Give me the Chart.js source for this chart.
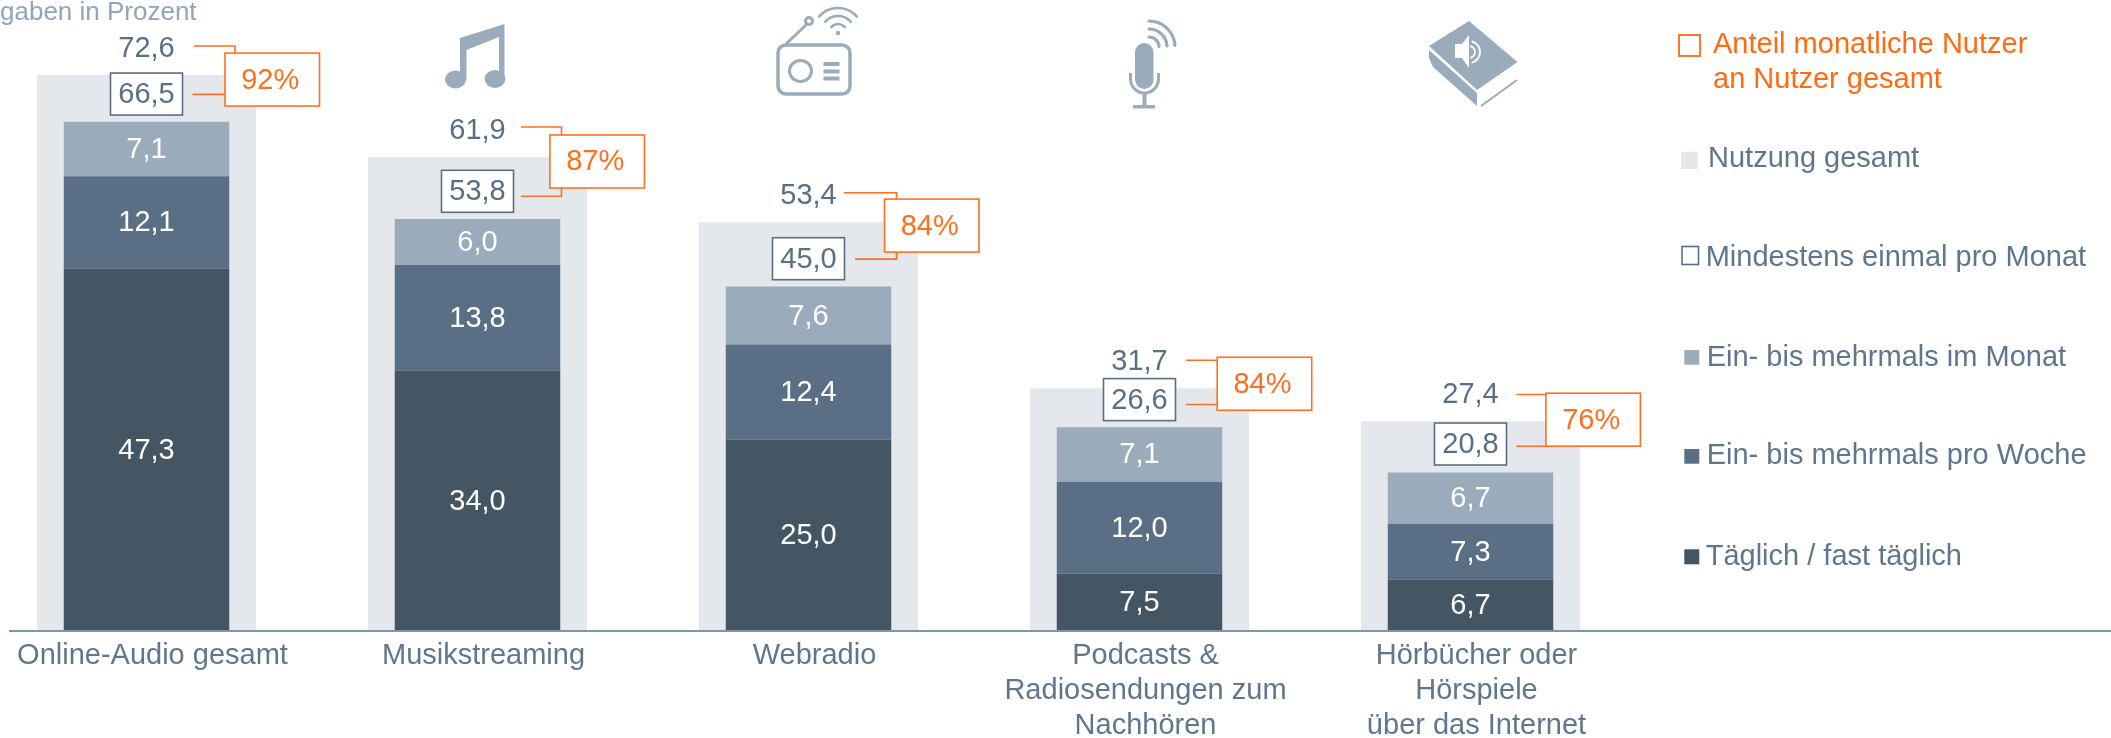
<!DOCTYPE html>
<html lang="de">
<head>
<meta charset="utf-8">
<title>Online-Audio Nutzung</title>
<script src="https://cdn.jsdelivr.net/npm/chart.js@4"></script>
<style>
html,body{margin:0;padding:0;background:#fff;overflow:hidden;width:2111px;height:738px}
canvas{display:block;position:absolute;left:-40px;top:0}
</style>
</head>
<body>
<canvas id="c" width="2151" height="738"></canvas>
<script>
const categories = [
  'Online-Audio gesamt',
  'Musikstreaming',
  'Webradio',
  ['Podcasts &', 'Radiosendungen zum', 'Nachhören'],
  ['Hörbücher oder', 'Hörspiele', 'über das Internet']
];
const nutzungGesamt = [72.6, 61.9, 53.4, 31.7, 27.4];
const mindestensMonat = [66.5, 53.8, 45.0, 26.6, 20.8];
const taeglich = [47.3, 34.0, 25.0, 7.5, 6.7];
const woche = [12.1, 13.8, 12.4, 12.0, 7.3];
const monat = [7.1, 6.0, 7.6, 7.1, 6.7];
const anteilMonatlich = [92, 87, 84, 84, 76];

const seriesNames = {
  anteil: ['Anteil monatliche Nutzer', 'an Nutzer gesamt'],
  gesamt: 'Nutzung gesamt',
  mindestens: 'Mindestens einmal pro Monat',
  monat: 'Ein- bis mehrmals im Monat',
  woche: 'Ein- bis mehrmals pro Woche',
  taeglich: 'Täglich / fast täglich'
};
const unitNote = 'gaben in Prozent';

const COL = {dark:'#445664', mid:'#5a6f85', light:'#9aabbb', bg:'#e4e8ed',
  text:'#5f768d', num:'#5a6f85', orange:'#ff6f1f', legendOrange:'#ff6a13', axis:'#7f95aa', note:'#93a5b7', icon:'#9aabbb'};
const FONT = '"Liberation Sans", Arial, sans-serif';
const PAGE_SHIFT = 40;
const fmt = v => v.toFixed(1).replace('.', ',');

/* annotation layout, relative to the bar centre and the top of the grey bar */
const calloutLayout = [
  {dx:78.5, dy:-22, upY:-29,   lowY:19.3, upStart:47.5, lowStart:46,   elbow:88.5, upElbow:true,  lowElbow:false},
  {dx:72.4, dy:-22, upY:-30,   lowY:39.3, upStart:43.4, lowStart:43.4, elbow:84,   upElbow:true,  lowElbow:true},
  {dx:76,   dy:-23, upY:-29.3, lowY:37,   upStart:35.2, lowStart:46.5, elbow:88,   upElbow:true,  lowElbow:true},
  {dx:77.7, dy:-31, upY:-28,   lowY:16.3, upStart:46.6, lowStart:46.6, elbow:0,    upElbow:false, lowElbow:false},
  {dx:75.4, dy:-28, upY:-26.7, lowY:25,   upStart:46,   lowStart:46,   elbow:0,    upElbow:false, lowElbow:false}
];

function rectS(ctx,x,y,w,h,color,lw){ctx.strokeStyle=color;ctx.lineWidth=lw;ctx.strokeRect(x,y,w,h);}
function poly(ctx,pts){ctx.beginPath();pts.forEach((p,i)=>i?ctx.lineTo(p[0],p[1]):ctx.moveTo(p[0],p[1]));ctx.closePath();}

function wifi(ctx,cx,cy,radii,a0,a1,lw){
  ctx.lineWidth=lw;ctx.lineCap='round';
  radii.forEach(r=>{ctx.beginPath();ctx.arc(cx,cy,r,a0,a1);ctx.stroke();});
  ctx.lineCap='butt';
}

function drawIcons(ctx){
  ctx.save();
  ctx.fillStyle=COL.icon;ctx.strokeStyle=COL.icon;
  /* music note */
  poly(ctx,[[460,38],[504.5,24],[504.5,78],[499,78],[499,37],[466.5,50],[466.5,80],[460,80]]);ctx.fill();
  ctx.beginPath();ctx.ellipse(455.5,79.5,10.5,9,0,0,7);ctx.fill();
  ctx.beginPath();ctx.ellipse(495,79,10.5,9,0,0,7);ctx.fill();
  /* radio */
  ctx.lineWidth=3.5;
  ctx.beginPath();ctx.roundRect(778,45,72,49,8);ctx.stroke();
  ctx.lineWidth=3;
  ctx.beginPath();ctx.ellipse(800.5,71,11,10.5,0,0,7);ctx.stroke();
  [62,69.5,76.5].forEach(y=>ctx.fillRect(823.5,y,16,4));
  ctx.beginPath();ctx.moveTo(786,44);ctx.lineTo(807,24);ctx.stroke();
  ctx.beginPath();ctx.arc(809,21,3.5,0,7);ctx.stroke();
  ctx.beginPath();ctx.arc(838,33,2.2,0,7);ctx.fill();
  wifi(ctx,838,33,[9,17,25],-Math.PI*0.77,-Math.PI*0.23,2.6);
  /* microphone */
  ctx.beginPath();ctx.roundRect(1135,43,18.5,46,9.2);ctx.fill();
  ctx.lineWidth=3;
  ctx.beginPath();ctx.arc(1144.5,79,14,0,Math.PI);ctx.stroke();
  ctx.beginPath();ctx.moveTo(1130.5,73);ctx.lineTo(1130.5,80);ctx.moveTo(1158.5,73);ctx.lineTo(1158.5,80);ctx.stroke();
  ctx.fillRect(1142.5,93,4,13);
  ctx.fillRect(1133,105,22,3.5);
  wifi(ctx,1149,47,[10,18,26],-Math.PI*0.5,-Math.PI*0.02,3.2);
  /* book */
  poly(ctx,[[1469,21],[1517.5,62],[1477,90],[1429,46]]);ctx.fill();
  poly(ctx,[[1429,50],[1477,93],[1477,106],[1433,67],[1429,58]]);ctx.fill();
  ctx.strokeStyle=COL.icon;ctx.lineWidth=2;
  ctx.beginPath();ctx.moveTo(1481,106);ctx.lineTo(1517,80);ctx.stroke();
  ctx.fillStyle='#fff';ctx.strokeStyle='#fff';
  poly(ctx,[[1455,44],[1462,44],[1469,35],[1469,68],[1462,58],[1455,58]]);ctx.fill();
  wifi(ctx,1469,52,[6,11],-Math.PI*0.4,Math.PI*0.4,1.8);
  ctx.restore();
}

const annotations = {
  id:'annotations',
  afterDatasetsDraw(chart){
    const {ctx,scales:{x,y}}=chart;
    ctx.save();
    /* axis line across the full width */
    const base=y.getPixelForValue(0);
    ctx.strokeStyle=COL.axis;ctx.lineWidth=2;
    ctx.beginPath();ctx.moveTo(9+PAGE_SHIFT,base);ctx.lineTo(2111+PAGE_SHIFT,base);ctx.stroke();

    /* in-bar values */
    ctx.font='29px '+FONT;ctx.textAlign='center';ctx.textBaseline='middle';ctx.fillStyle='#fff';
    chart.data.datasets.forEach((ds,di)=>{
      if(ds.stack!=='teile')return;
      chart.getDatasetMeta(di).data.forEach((el,i)=>{
        const p=el.getCenterPoint();
        ctx.fillText(fmt(ds.data[i]),p.x,p.y+1);
      });
    });

    categories.forEach((_,i)=>{
      const cx=x.getPixelForValue(i), top=y.getPixelForValue(nutzungGesamt[i]);
      const mTop=y.getPixelForValue(mindestensMonat[i]);
      const L=calloutLayout[i];
      /* total */
      ctx.fillStyle=COL.num;ctx.font='29px '+FONT;
      ctx.fillText(fmt(nutzungGesamt[i]),cx,top-26);
      /* monthly box */
      const bw=72,bh=42,bx=cx-bw/2,by=mTop-6.7-bh;
      ctx.fillStyle='#fff';ctx.fillRect(bx,by,bw,bh);
      rectS(ctx,bx,by,bw,bh,COL.mid,1.6);
      ctx.fillStyle=COL.num;
      ctx.fillText(fmt(mindestensMonat[i]),cx,by+bh/2+1);
      /* callout */
      const ox=cx+L.dx, oy=top+L.dy, ow=94.5, oh=53;
      const upY=top+L.upY, lowY=top+L.lowY;
      ctx.strokeStyle=COL.orange;ctx.lineWidth=1.6;
      ctx.beginPath();
      const sx=cx+L.upStart, lx=cx+L.lowStart, ex=cx+L.elbow;
      if(L.upElbow){ctx.moveTo(sx,upY);ctx.lineTo(ex,upY);ctx.lineTo(ex,oy);}
      else{ctx.moveTo(sx,upY);ctx.lineTo(ox,upY);}
      if(L.lowElbow){ctx.moveTo(lx,lowY);ctx.lineTo(ex,lowY);ctx.lineTo(ex,oy+oh);}
      else{ctx.moveTo(lx,lowY);ctx.lineTo(ox,lowY);}
      ctx.stroke();
      ctx.fillStyle='#fff';ctx.fillRect(ox,oy,ow,oh);
      rectS(ctx,ox,oy,ow,oh,COL.orange,1.6);
      ctx.fillStyle=COL.orange;ctx.font='29px '+FONT;
      ctx.fillText(anteilMonatlich[i]+'%',ox+ow/2-2,oy+oh/2+1);
    });
    ctx.restore();

    ctx.save();
    ctx.translate(PAGE_SHIFT,0);
    drawIcons(ctx);
    /* note + legend */
    ctx.textAlign='left';ctx.textBaseline='alphabetic';
    ctx.fillStyle=COL.note;ctx.font='26px '+FONT;
    ctx.fillText(unitNote,0,20);
    ctx.font='29px '+FONT;
    ctx.fillStyle=COL.legendOrange;
    ctx.fillText(seriesNames.anteil[0],1713,52.7);
    ctx.fillText(seriesNames.anteil[1],1713,87.5);
    rectS(ctx,1679,35,21,21,COL.legendOrange,1.8);
    ctx.fillStyle=COL.bg;ctx.fillRect(1681,151.7,16.7,17.3);
    rectS(ctx,1682,246.5,16.5,18,COL.mid,1.6);
    ctx.fillStyle=COL.light;ctx.fillRect(1684.3,350,15,14.7);
    ctx.fillStyle=COL.mid;ctx.fillRect(1684.3,449,15,14.7);
    ctx.fillStyle=COL.dark;ctx.fillRect(1684.3,549.3,15,15);
    ctx.fillStyle=COL.text;
    ctx.fillText(seriesNames.gesamt,1708,167.3);
    ctx.fillText(seriesNames.mindestens,1705.7,265.7);
    ctx.fillText(seriesNames.monat,1706.7,365.7);
    ctx.fillText(seriesNames.woche,1706.7,464);
    ctx.fillText(seriesNames.taeglich,1705.7,565);
    ctx.restore();
  }
};

new Chart(document.getElementById('c'),{
  type:'bar',
  data:{
    labels:categories,
    datasets:[
      {label:seriesNames.gesamt,data:nutzungGesamt,backgroundColor:COL.bg,stack:'gesamt',order:5,barPercentage:0.662,categoryPercentage:1,grouped:false},
      {label:seriesNames.taeglich,data:taeglich,backgroundColor:COL.dark,stack:'teile',order:1,barPercentage:0.5,categoryPercentage:1,grouped:false},
      {label:seriesNames.woche,data:woche,backgroundColor:COL.mid,stack:'teile',order:1,barPercentage:0.5,categoryPercentage:1,grouped:false},
      {label:seriesNames.monat,data:monat,backgroundColor:COL.light,stack:'teile',order:1,barPercentage:0.5,categoryPercentage:1,grouped:false}
    ]
  },
  options:{
    responsive:false,
    animation:false,
    devicePixelRatio:1,
    layout:{padding:{left:21,right:475,top:0,bottom:0}},
    plugins:{legend:{display:false},title:{display:false},tooltip:{enabled:false}},
    scales:{
      x:{
        stacked:true,
        grid:{display:false,drawTicks:false},
        border:{display:false},
        afterFit(s){s.height=107;},
        ticks:{
          color:COL.text,autoSkip:false,maxRotation:0,minRotation:0,padding:7,labelOffset:6,
          font:{family:FONT,size:29,lineHeight:1.22}
        }
      },
      y:{display:false,stacked:true,min:0,max:82.4}
    }
  },
  plugins:[annotations]
});
</script>
</body>
</html>
